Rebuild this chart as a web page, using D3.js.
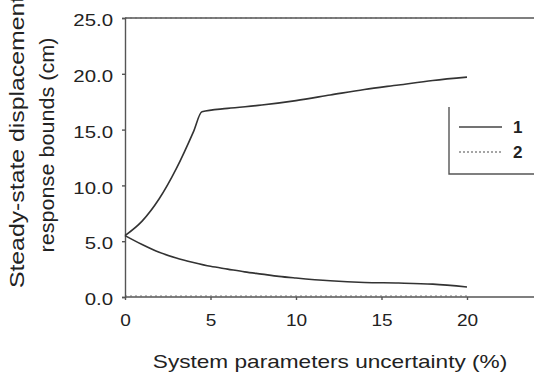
<!DOCTYPE html>
<html>
<head>
<meta charset="utf-8">
<script src="https://cdn.jsdelivr.net/npm/d3@7"></script>
<style>
  html, body { margin: 0; padding: 0; background: #fff; }
  svg { display: block; font-family: "Liberation Sans", Arial, sans-serif; }
</style>
</head>
<body>
<div id="chart"></div>
<script>
// uncertainty (%) and response bounds (cm)
const upperX = [0, 1, 2, 3, 4, 4.5, 6, 8, 10, 12, 14, 16, 18, 20];
const upperY = [5.5, 6.8, 8.8, 11.5, 14.8, 16.6, 16.9, 17.2, 17.6, 18.1, 18.6, 19.0, 19.4, 19.7];
const lowerX = [0, 1, 2, 3, 4, 5, 6, 7, 8, 9, 10, 12, 14, 16, 18, 20];
const lowerY = [5.5, 4.7, 4.0, 3.5, 3.1, 2.75, 2.5, 2.25, 2.05, 1.85, 1.7, 1.45, 1.3, 1.25, 1.15, 0.9];
// series 2 (dotted) sits on the plot limits
const s2X = [0, 20];
const s2Upper = [25, 25];
const s2Lower = [0.1, 0.1];

const xTicks = [0, 5, 10, 15, 20];
const yTicks = [0, 5, 10, 15, 20, 25];
const legendLabels = ["1", "2"];

const W = 534, H = 374;
const margin = { top: 18, right: 0, bottom: 77, left: 125 };

const svg = d3.select("#chart").append("svg")
  .attr("width", W).attr("height", H);

const x = d3.scaleLinear().domain([0, 24]).range([margin.left, margin.left + 24 * 17.1]);
const y = d3.scaleLinear().domain([0, 25]).range([H - margin.bottom, margin.top]);

// stretch text horizontally like the scanned original
function stretch(sel, sx) {
  sel.each(function () {
    const len = this.getComputedTextLength();
    d3.select(this).attr("textLength", len * sx).attr("lengthAdjust", "spacingAndGlyphs");
  });
}

const axisColor = "#555";
const inkColor = "#222";

// lines
const line = d3.line().x(d => x(d[0])).y(d => y(d[1])).curve(d3.curveMonotoneX);

[s2Upper, s2Lower].forEach(vals => {
  svg.append("path")
    .datum(s2X.map((v, i) => [v, vals[i]]))
    .attr("d", line).attr("fill", "none")
    .attr("stroke", "#aaa").attr("stroke-width", 1.2)
    .attr("stroke-dasharray", "2,3");
});

// top frame line
svg.append("line")
  .attr("x1", x(0)).attr("x2", W)
  .attr("y1", y(25)).attr("y2", y(25))
  .attr("stroke", axisColor).attr("stroke-width", 1.4);

// y axis
const yAxis = svg.append("g")
  .attr("transform", `translate(${x(0)},0)`)
  .call(d3.axisLeft(y).tickValues(yTicks).tickFormat(d3.format(".1f")).tickSize(3).tickPadding(9));
yAxis.select(".domain").attr("stroke", axisColor).attr("stroke-width", 1.4);
yAxis.selectAll(".tick line").attr("stroke", axisColor).attr("stroke-width", 1.4);
yAxis.selectAll(".tick text")
  .attr("fill", inkColor).attr("font-size", 17).attr("dy", "0.45em")
  .attr("font-family", "Liberation Sans, Arial, sans-serif")
  .call(stretch, 1.2);

// x axis
const xAxis = svg.append("g")
  .attr("transform", `translate(0,${y(0)})`)
  .call(d3.axisBottom(x).tickValues(xTicks).tickSize(3).tickPadding(14));
xAxis.select(".domain").attr("d", `M${x(0)},0H${W}`).attr("stroke", axisColor).attr("stroke-width", 1.4);
xAxis.selectAll(".tick line").attr("stroke", axisColor).attr("stroke-width", 1.4);
xAxis.selectAll(".tick text")
  .attr("fill", inkColor).attr("font-size", 17)
  .attr("font-family", "Liberation Sans, Arial, sans-serif")
  .call(stretch, 1.12);

svg.append("path")
  .datum(upperX.map((v, i) => [v, upperY[i]]))
  .attr("d", line).attr("fill", "none")
  .attr("stroke", "#333").attr("stroke-width", 1.6);

svg.append("path")
  .datum(lowerX.map((v, i) => [v, lowerY[i]]))
  .attr("d", line).attr("fill", "none")
  .attr("stroke", "#333").attr("stroke-width", 1.6);

// legend
const lg = svg.append("g").attr("transform", "translate(449,107)");
lg.append("path")
  .attr("d", `M0,0V67H${W - 449}`)
  .attr("fill", "none").attr("stroke", axisColor).attr("stroke-width", 1.4);
legendLabels.forEach((lab, i) => {
  const ly = 20 + i * 25;
  lg.append("line")
    .attr("x1", 10).attr("x2", 53).attr("y1", ly).attr("y2", ly)
    .attr("stroke", i === 0 ? "#444" : "#888")
    .attr("stroke-width", 1.4)
    .attr("stroke-dasharray", i === 0 ? null : "2,2");
  lg.append("text")
    .attr("x", 64).attr("y", ly).attr("dy", "0.38em")
    .attr("font-size", 17).attr("font-weight", "bold").attr("fill", inkColor)
    .text(lab);
});

// axis titles
svg.append("text")
  .attr("x", 330).attr("y", 368)
  .attr("text-anchor", "middle")
  .attr("font-size", 19).attr("fill", inkColor)
  .text("System parameters uncertainty (%)")
  .call(stretch, 1.19);

svg.append("text")
  .attr("transform", "translate(24,142) rotate(-90)")
  .attr("text-anchor", "middle")
  .attr("font-size", 20).attr("fill", inkColor)
  .text("Steady-state displacement")
  .call(stretch, 1.24);

svg.append("text")
  .attr("transform", "translate(54,145) rotate(-90)")
  .attr("text-anchor", "middle")
  .attr("font-size", 20).attr("fill", inkColor)
  .text("response bounds (cm)")
  .call(stretch, 1.08);
</script>
</body>
</html>
